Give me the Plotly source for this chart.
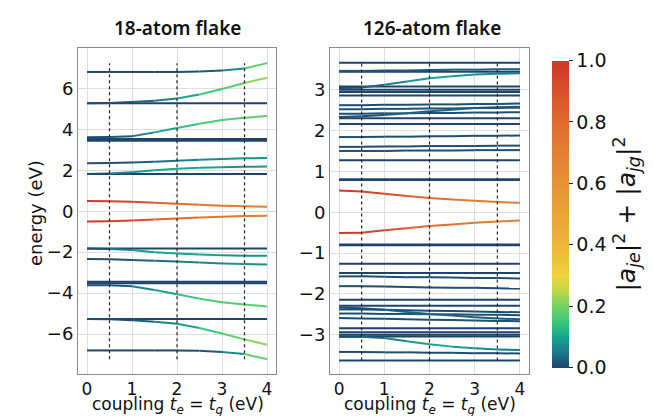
import plotly.graph_objects as go
from plotly.colors import sample_colorscale

# ---------------- data ----------------
T = [0, 0.5, 1, 1.5, 2, 2.5, 3, 3.5, 4]
VLINE_T = [0.5, 2, 3.5]

# 18-atom flake: flat levels (weight 0)
FLAT_18 = [5.27, 3.52, 3.44, 1.82, -1.82, -3.44, -3.52, -5.27]
# 18-atom flake: varying levels (energy at T) and weights
E18 = [
    [6.80, 6.80, 6.80, 6.80, 6.80, 6.82, 6.87, 6.97, 7.23],
    [5.27, 5.28, 5.33, 5.40, 5.50, 5.70, 5.97, 6.26, 6.52],
    [3.61, 3.62, 3.66, 3.85, 4.06, 4.27, 4.45, 4.56, 4.65],
    [2.34, 2.35, 2.38, 2.42, 2.46, 2.51, 2.55, 2.58, 2.60],
    [1.82, 1.84, 1.90, 2.00, 2.07, 2.12, 2.15, 2.17, 2.18],
    [0.50, 0.49, 0.46, 0.41, 0.36, 0.31, 0.27, 0.24, 0.22],
    [-0.50, -0.49, -0.46, -0.41, -0.36, -0.31, -0.27, -0.24, -0.22],
    [-1.82, -1.84, -1.90, -2.00, -2.07, -2.12, -2.15, -2.17, -2.18],
    [-2.34, -2.35, -2.38, -2.42, -2.46, -2.51, -2.55, -2.58, -2.60],
    [-3.61, -3.62, -3.66, -3.85, -4.06, -4.27, -4.45, -4.56, -4.65],
    [-5.27, -5.28, -5.33, -5.40, -5.50, -5.70, -5.97, -6.26, -6.52],
    [-6.80, -6.80, -6.80, -6.80, -6.80, -6.82, -6.87, -6.97, -7.23],
]
W18 = [
    [0, 0, 0, 0, 0, 0.01, 0.03, 0.10, 0.26],
    [0, 0.01, 0.02, 0.04, 0.07, 0.12, 0.17, 0.20, 0.23],
    [0, 0.01, 0.03, 0.08, 0.12, 0.15, 0.17, 0.18, 0.19],
    [0, 0.01, 0.02, 0.04, 0.05, 0.06, 0.07, 0.08, 0.08],
    [0, 0.03, 0.08, 0.10, 0.10, 0.10, 0.09, 0.08, 0.08],
    [1.0, 0.98, 0.93, 0.86, 0.80, 0.76, 0.73, 0.71, 0.70],
    [1.0, 0.98, 0.93, 0.86, 0.80, 0.76, 0.73, 0.71, 0.70],
    [0, 0.03, 0.08, 0.10, 0.10, 0.10, 0.09, 0.08, 0.08],
    [0, 0.01, 0.02, 0.04, 0.05, 0.06, 0.07, 0.08, 0.08],
    [0, 0.01, 0.03, 0.08, 0.12, 0.15, 0.17, 0.18, 0.19],
    [0, 0.01, 0.02, 0.04, 0.07, 0.12, 0.17, 0.20, 0.23],
    [0, 0, 0, 0, 0, 0.01, 0.03, 0.10, 0.26],
]

# 126-atom flake: flat levels (weight 0)
FLAT_126 = [3.66, 3.44, 3.08, 3.00, 2.94, 2.86, 2.30, 2.16, 1.27, 0.81, 0.79,
            -0.79, -0.81, -1.26, -1.49, -2.14, -2.29, -2.84, -2.94, -3.00, -3.04, -3.63]
E126 = [
    [3.46, 3.46, 3.47, 3.47, 3.48, 3.49, 3.49, 3.50, 3.50],
    [3.04, 3.05, 3.12, 3.20, 3.28, 3.33, 3.37, 3.39, 3.40],
    [2.62, 2.62, 2.63, 2.63, 2.64, 2.64, 2.65, 2.65, 2.66],
    [2.52, 2.52, 2.53, 2.53, 2.54, 2.54, 2.55, 2.55, 2.56],
    [2.41, 2.41, 2.42, 2.42, 2.43, 2.43, 2.44, 2.44, 2.45],
    [2.33, 2.35, 2.38, 2.42, 2.47, 2.51, 2.55, 2.57, 2.58],
    [1.84, 1.84, 1.85, 1.85, 1.86, 1.86, 1.87, 1.87, 1.88],
    [1.60, 1.60, 1.61, 1.61, 1.62, 1.62, 1.62, 1.63, 1.63],
    [1.50, 1.50, 1.50, 1.51, 1.51, 1.51, 1.52, 1.52, 1.52],
    [0.53, 0.51, 0.45, 0.40, 0.35, 0.31, 0.28, 0.25, 0.23],
    [-0.51, -0.50, -0.44, -0.39, -0.34, -0.30, -0.26, -0.23, -0.20],
    [-1.57, -1.57, -1.58, -1.59, -1.59, -1.60, -1.61, -1.61, -1.62],
    [-1.81, -1.81, -1.82, -1.83, -1.84, -1.85, -1.85, -1.86, -1.87],
    [-2.33, -2.35, -2.39, -2.44, -2.49, -2.53, -2.57, -2.60, -2.62],
    [-2.38, -2.38, -2.39, -2.40, -2.41, -2.42, -2.43, -2.44, -2.45],
    [-2.48, -2.48, -2.49, -2.49, -2.50, -2.50, -2.51, -2.51, -2.52],
    [-2.59, -2.60, -2.61, -2.62, -2.63, -2.64, -2.65, -2.66, -2.67],
    [-3.05, -3.05, -3.08, -3.16, -3.23, -3.29, -3.33, -3.36, -3.37],
    [-3.42, -3.42, -3.43, -3.43, -3.44, -3.44, -3.45, -3.45, -3.46],
]
W126 = [
    [0.02, 0.02, 0.02, 0.02, 0.02, 0.02, 0.02, 0.02, 0.02],
    [0, 0.01, 0.04, 0.08, 0.10, 0.10, 0.08, 0.06, 0.04],
    [0.01, 0.01, 0.01, 0.01, 0.01, 0.01, 0.01, 0.01, 0.01],
    [0.01, 0.01, 0.01, 0.01, 0.01, 0.01, 0.01, 0.01, 0.01],
    [0.01, 0.01, 0.01, 0.01, 0.01, 0.01, 0.01, 0.01, 0.01],
    [0, 0.01, 0.02, 0.03, 0.03, 0.03, 0.02, 0.02, 0.02],
    [0.01, 0.01, 0.01, 0.01, 0.01, 0.01, 0.01, 0.01, 0.01],
    [0.01, 0.01, 0.01, 0.01, 0.01, 0.01, 0.01, 0.01, 0.01],
    [0.01, 0.01, 0.01, 0.01, 0.01, 0.01, 0.01, 0.01, 0.01],
    [1.0, 0.98, 0.92, 0.85, 0.80, 0.76, 0.73, 0.71, 0.70],
    [1.0, 0.98, 0.92, 0.85, 0.80, 0.76, 0.73, 0.71, 0.70],
    [0.01, 0.01, 0.01, 0.01, 0.01, 0.01, 0.01, 0.01, 0.01],
    [0.01, 0.01, 0.01, 0.01, 0.01, 0.01, 0.01, 0.01, 0.01],
    [0, 0.01, 0.02, 0.03, 0.03, 0.03, 0.02, 0.02, 0.02],
    [0.01, 0.01, 0.01, 0.01, 0.01, 0.01, 0.01, 0.01, 0.01],
    [0.01, 0.01, 0.01, 0.01, 0.01, 0.01, 0.01, 0.01, 0.01],
    [0.01, 0.01, 0.01, 0.01, 0.01, 0.01, 0.01, 0.01, 0.01],
    [0, 0.01, 0.04, 0.08, 0.10, 0.10, 0.08, 0.06, 0.04],
    [0.01, 0.01, 0.01, 0.01, 0.01, 0.01, 0.01, 0.01, 0.01],
]

COLORSCALE = [
    [0.0, "rgb(30,68,108)"],
    [0.05, "rgb(28,120,140)"],
    [0.10, "rgb(22,165,142)"],
    [0.15, "rgb(62,200,122)"],
    [0.20, "rgb(112,212,100)"],
    [0.25, "rgb(190,216,72)"],
    [0.30, "rgb(240,210,58)"],
    [0.40, "rgb(238,182,56)"],
    [0.60, "rgb(230,146,54)"],
    [0.80, "rgb(222,108,48)"],
    [1.0, "rgb(208,54,40)"],
]

FONT = "DejaVu Sans"
LW = 2.0


def add_panel(fig, xa, ya, flat, E, W):
    xaxis = "x" if xa == 1 else f"x{xa}"
    yaxis = "y" if ya == 1 else f"y{ya}"
    groups = {}
    for e in flat:
        groups.setdefault(0.0, ([], []))
        gx, gy = groups[0.0]
        gx += [T[0], T[-1], None]
        gy += [e, e, None]
    for ev, wv in zip(E, W):
        for i in range(len(T) - 1):
            w = round((wv[i] + wv[i + 1]) / 2, 2)
            groups.setdefault(w, ([], []))
            gx, gy = groups[w]
            gx += [T[i], T[i + 1], None]
            gy += [ev[i], ev[i + 1], None]
    for w in sorted(groups):
        gx, gy = groups[w]
        col = sample_colorscale(COLORSCALE, [w])[0]
        fig.add_trace(go.Scatter(x=gx, y=gy, mode="lines", xaxis=xaxis, yaxis=yaxis,
                                 line=dict(color=col, width=LW), hoverinfo="skip",
                                 showlegend=False))
    allv = list(flat) + [v for row in E for v in row]
    lo, hi = min(allv), max(allv)
    vx, vy = [], []
    for t in VLINE_T:
        vx += [t, t, None]
        vy += [lo, hi, None]
    fig.add_trace(go.Scatter(x=vx, y=vy, mode="lines", xaxis=xaxis, yaxis=yaxis,
                             line=dict(color="#222222", width=1.2, dash="dot"),
                             hoverinfo="skip", showlegend=False))


fig = go.Figure()
add_panel(fig, 1, 1, FLAT_18, E18, W18)
add_panel(fig, 2, 2, FLAT_126, E126, W126)

fig.add_trace(go.Scatter(
    x=[None], y=[None], mode="markers", showlegend=False, hoverinfo="skip",
    marker=dict(colorscale=COLORSCALE, cmin=0, cmax=1, color=[0], showscale=True,
                colorbar=dict(
                    x=534 / 653, xanchor="left", xref="paper",
                    y=(416 - 206) / 416, yanchor="middle",
                    thickness=17, thicknessmode="pixels",
                    len=327, lenmode="pixels",
                    outlinewidth=0,
                    tickvals=[0, 0.2, 0.4, 0.6, 0.8, 1.0],
                    ticktext=["0.0", "0.2", "0.4", "0.6", "0.8", "1.0"],
                    ticks="outside", ticklen=4, tickcolor="#222",
                    tickfont=dict(family=FONT, size=19, color="#111"),
                    title=dict(text="|<i>a<sub>je</sub></i>|<sup>2</sup> + |<i>a<sub>jg</sub></i>|<sup>2</sup>",
                               side="right", font=dict(family=FONT, size=25, color="#111")),
                ))))

axis_common = dict(showgrid=True, gridcolor="#dedede", gridwidth=1, zeroline=False,
                   showline=True, linecolor="#8a8a8a", linewidth=1, mirror=True,
                   ticks="")
yfont = dict(family=FONT, size=18, color="#111")
xfont = dict(family=FONT, size=17, color="#111")

ydom = [(416 - 366) / 416, (416 - 40) / 416]
xt = "coupling <i>t<sub>e</sub></i> = <i>t<sub>g</sub></i> (eV)"
fig.update_layout(
    width=653, height=416,
    margin=dict(l=0, r=0, t=0, b=0),
    paper_bgcolor="white", plot_bgcolor="white",
    xaxis=dict(domain=[70 / 653, 268 / 653], range=[-0.2, 4.2], anchor="y",
               tickvals=[0, 1, 2, 3, 4], tickfont=xfont, **axis_common),
    yaxis=dict(domain=ydom, range=[-7.95, 7.97], anchor="x",
               tickvals=[-6, -4, -2, 0, 2, 4, 6], tickfont=yfont, **axis_common),
    xaxis2=dict(domain=[322 / 653, 521 / 653], range=[-0.2, 4.2], anchor="y2",
                tickvals=[0, 1, 2, 3, 4], tickfont=xfont, **axis_common),
    yaxis2=dict(domain=ydom, range=[-3.96, 4.02], anchor="x2",
                tickvals=[-3, -2, -1, 0, 1, 2, 3], tickfont=yfont, **axis_common),
    annotations=[
        dict(text="18-atom flake", x=169 / 653, y=(416 - 20) / 416, xref="paper", yref="paper",
             showarrow=False, font=dict(family="Noto Sans", size=19, color="#111", weight=600),
             xanchor="center", yanchor="middle"),
        dict(text="126-atom flake", x=424 / 653, y=(416 - 20) / 416, xref="paper", yref="paper",
             showarrow=False, font=dict(family="Noto Sans", size=19, color="#111", weight=600),
             xanchor="center", yanchor="middle"),
        dict(text=xt, x=170 / 653, y=(416 - 397) / 416, xref="paper", yref="paper",
             showarrow=False, font=dict(family=FONT, size=17, color="#111"),
             xanchor="center", yanchor="middle"),
        dict(text=xt, x=422 / 653, y=(416 - 397) / 416, xref="paper", yref="paper",
             showarrow=False, font=dict(family=FONT, size=17, color="#111"),
             xanchor="center", yanchor="middle"),
        dict(text="energy (eV)", x=27 / 653, y=(416 - 205) / 416, xref="paper", yref="paper",
             showarrow=False, textangle=-90, font=dict(family=FONT, size=18, color="#111"),
             xanchor="center", yanchor="middle"),
    ],
)

fig.write_html("out.html")
